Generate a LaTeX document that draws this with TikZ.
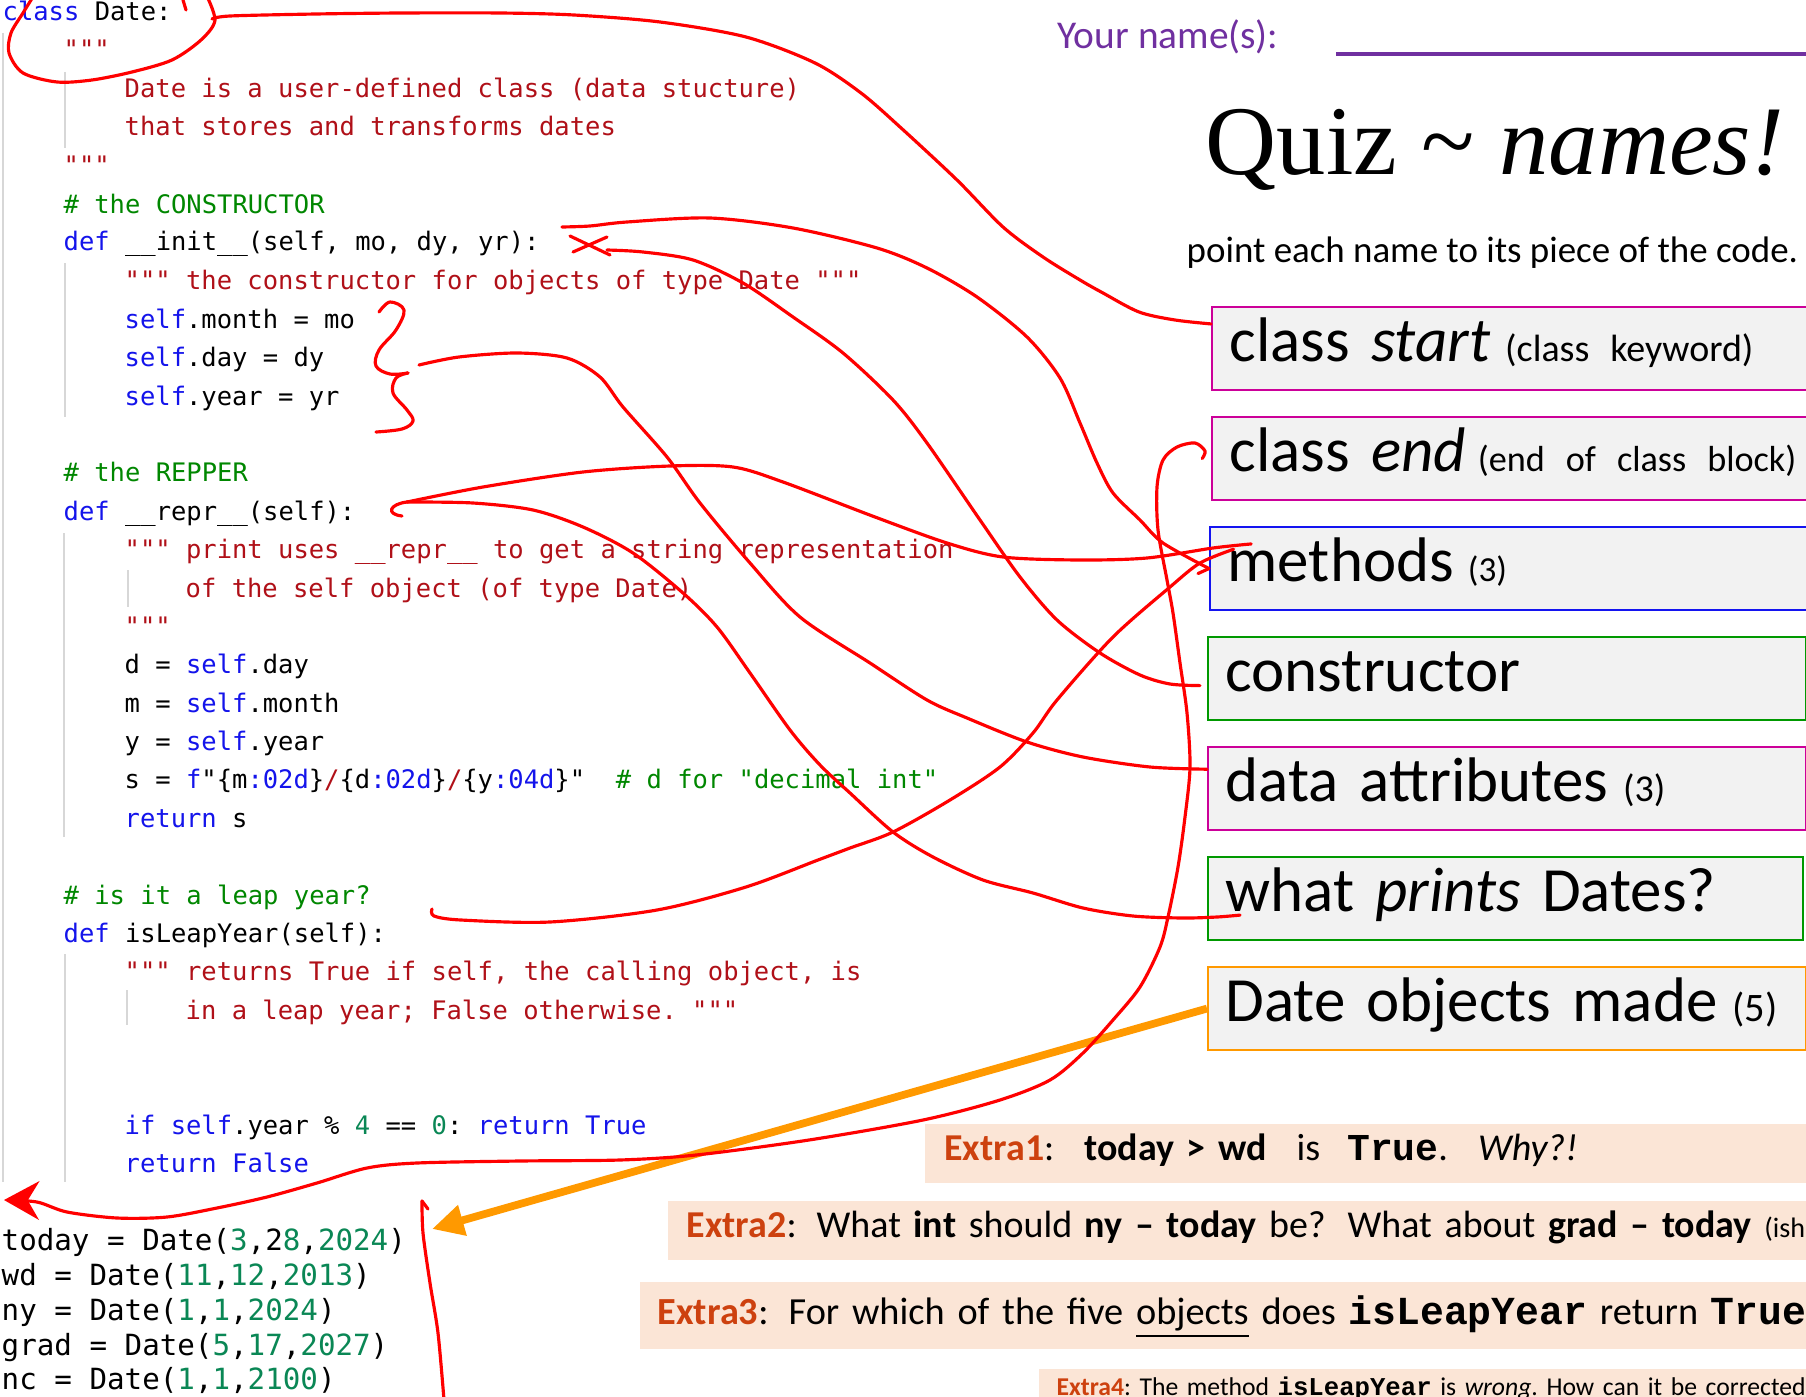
\documentclass[tikz,border=0pt]{standalone}
\usepackage{fontspec}
\setmainfont{Carlito}
\setmonofont{Liberation Mono}
\newfontfamily\codefont[Ligatures=ResetAll]{DejaVu Sans Mono}
\newfontfamily\titlefont{Liberation Serif}
\usepackage{xcolor}
\usetikzlibrary{arrows.meta}

\definecolor{kwblue}{RGB}{20,20,235}
\definecolor{strred}{RGB}{176,16,24}
\definecolor{cmtgreen}{RGB}{0,135,0}
\definecolor{numgreen}{RGB}{10,135,85}
\definecolor{guidegray}{RGB}{215,215,215}
\definecolor{inkred}{RGB}{255,0,0}
\definecolor{namepurple}{RGB}{112,48,160}
\definecolor{boxgray}{RGB}{242,242,242}
\definecolor{boxmagenta}{RGB}{204,0,153}
\definecolor{boxblue}{RGB}{20,20,240}
\definecolor{boxgreen}{RGB}{0,153,0}
\definecolor{boxorange}{RGB}{255,153,0}
\definecolor{extrafill}{RGB}{251,229,214}
\definecolor{extrared}{RGB}{205,65,15}

\newcommand{\pykw}[1]{\textcolor{kwblue}{#1}}
\newcommand{\pystr}[1]{\textcolor{strred}{#1}}
\newcommand{\pycmt}[1]{\textcolor{cmtgreen}{#1}}
\newcommand{\pynum}[1]{\textcolor{numgreen}{#1}}
\newcommand{\extra}[1]{\textbf{\textcolor{extrared}{#1}}}
\frenchspacing

\begin{document}
\begin{tikzpicture}[x=0.01cm, y=-0.01cm]
\tikzstyle{pyline} = [anchor=base west, inner sep=0pt, font=\codefont\fontsize{7.25}{8}\selectfont]
\tikzstyle{pyobj} = [pyline, font=\codefont\fontsize{8.3}{9}\selectfont]
\tikzstyle{guide} = [draw=guidegray, line width=0.45pt]
\tikzstyle{namebox} = [draw, line width=0.6pt, fill=boxgray, anchor=north west, align=left, inner xsep=5pt, inner ysep=0pt, text height=15.6pt, text depth=8pt, font=\fontsize{17.9}{20}\selectfont]
\tikzstyle{extrabox} = [fill=extrafill, anchor=north west, align=left, inner xsep=5.4pt, inner ysep=0pt, font=\fontsize{10.8}{13}\selectfont]
\tikzstyle{ink} = [draw=inkred, line width=0.9pt, line cap=round, line join=round]
\tikzstyle{objarrow} = [draw=boxorange, line width=2.2pt, -{Triangle[length=9pt,width=8.5pt]}]

\useasboundingbox (0,0) rectangle (1806,1397);
\fill[white] (0,0) rectangle (1806,1397);

% indent guides
\draw[guide] (3,33) -- (3,1182);
\draw[guide] (65,72) -- (65,148);
\draw[guide] (65,263) -- (65,417);
\draw[guide] (64,533) -- (64,837);
\draw[guide] (128,570) -- (128,607);
\draw[guide] (65,954) -- (65,1182);
\draw[guide] (127,990) -- (127,1025);

% class header and docstring
\node[pyline] (l0) at (2,21) {\pykw{class} Date:};
\node[pyline] (l1) at (63,59) {\pystr{"""}};
\node[pyline] (l2) at (124,98) {\pystr{Date is a user-defined class (data stucture)}};
\node[pyline] (l3) at (124,136) {\pystr{that stores and transforms dates}};
\node[pyline] (l4) at (63,175) {\pystr{"""}};

% constructor
\node[pyline] (l5) at (63,213) {\pycmt{\# the CONSTRUCTOR}};
\node[pyline] (l6) at (63,251) {\pykw{def} \_\_init\_\_(self, mo, dy, yr):};
\node[pyline] (l7) at (124,290) {\pystr{""" the constructor for objects of type Date """}};
\node[pyline] (l8) at (124,328) {\pykw{self}.month = mo};
\node[pyline] (l9) at (124,366) {\pykw{self}.day = dy};
\node[pyline] (l10) at (124,405) {\pykw{self}.year = yr};

% repper
\node[pyline] (l12) at (63,481) {\pycmt{\# the REPPER}};
\node[pyline] (l13) at (63,520) {\pykw{def} \_\_repr\_\_(self):};
\node[pyline] (l14) at (124,558) {\pystr{""" print uses \_\_repr\_\_ to get a string representation}};
\node[pyline] (l15) at (185,597) {\pystr{of the self object (of type Date)}};
\node[pyline] (l16) at (124,635) {\pystr{"""}};
\node[pyline] (l17) at (124,673) {d = \pykw{self}.day};
\node[pyline] (l18) at (124,712) {m = \pykw{self}.month};
\node[pyline] (l19) at (124,750) {y = \pykw{self}.year};
\node[pyline] (l20) at (124,788) {s = \pykw{f}"\{m\pykw{:02d}\}\pystr{/}\{d\pykw{:02d}\}\pystr{/}\{y\pykw{:04d}\}"~~\pycmt{\# d for "decimal int"}};
\node[pyline] (l21) at (124,827) {\pykw{return} s};

% leap year
\node[pyline] (l23) at (63,904) {\pycmt{\# is it a leap year?}};
\node[pyline] (l24) at (63,942) {\pykw{def} isLeapYear(self):};
\node[pyline] (l25) at (124,980) {\pystr{""" returns True if self, the calling object, is}};
\node[pyline] (l26) at (185,1019) {\pystr{in a leap year; False otherwise. """}};
\node[pyline] (l29) at (124,1134) {\pykw{if} \pykw{self}.year \% \pynum{4} == \pynum{0}: \pykw{return} \pykw{True}};
\node[pyline] (l30) at (124,1172) {\pykw{return} \pykw{False}};

% the five objects
\node[pyobj] (today) at (1,1250) {today = Date(\pynum{3},2\pynum{8},\pynum{2024})};
\node[pyobj] (wd) at (1,1285) {wd = Date(\pynum{11},\pynum{12},\pynum{2013})};
\node[pyobj] (ny) at (1,1320) {ny = Date(\pynum{1},\pynum{1},\pynum{2024})};
\node[pyobj] (grad) at (1,1355) {grad = Date(\pynum{5},\pynum{17},\pynum{2027})};
\node[pyobj] (nc) at (1,1389) {nc = Date(\pynum{1},\pynum{1},\pynum{2100})};

% heading
\node[anchor=base west, inner sep=0pt, text=namepurple, font=\fontsize{11.2}{13}\selectfont] (yourname) at (1057,49) {Your name(s):};
\draw[namepurple, line width=0.9pt] (1336,54) -- (1806,54);
\node[anchor=base west, inner sep=0pt, font=\titlefont\fontsize{28}{30}\selectfont] (quiz) at (1205,175) {Quiz \textasciitilde{} \textit{names!}};
\node[anchor=base west, inner sep=0pt, font=\fontsize{10.5}{12}\selectfont] (hint) at (1186,262) {point each name to its piece of the code.};

% name boxes
\node[namebox, draw=boxmagenta, text width=6.6cm] (start) at (1211,306) {class \textit{start}\hspace{1.5mm}{\fontsize{10.8}{13}\selectfont (class keyword)}};
\node[namebox, draw=boxmagenta, text width=6.6cm] (cend) at (1211,416) {class \textit{end}\hspace{1.2mm}{\fontsize{10.3}{13}\selectfont (end of class block)}};
\node[namebox, draw=boxblue, text width=6.6cm] (methods) at (1209,526) {methods\hspace{1.4mm}{\fontsize{10}{12}\selectfont (3)}};
\node[namebox, draw=boxgreen, text width=5.62cm] (cons) at (1207,636) {constructor};
\node[namebox, draw=boxmagenta, text width=5.62cm] (attrs) at (1207,746) {data attributes\hspace{1.5mm}{\fontsize{10.8}{13}\selectfont (3)}};
\node[namebox, draw=boxgreen, text width=5.59cm] (prints) at (1207,856) {what \textit{prints} Dates?};
\node[namebox, draw=boxorange, text width=5.62cm] (objs) at (1207,966) {Date objects made\hspace{1.5mm}{\fontsize{11.5}{14}\selectfont (5)}};

% extra questions
\node[extrabox, inner xsep=5.6pt, text width=9cm, text height=10.5pt, text depth=6.5pt] (extraA) at (924,1123) {\extra{Extra1}:\hspace{3mm}\textbf{today > wd}\hspace{3mm}is\hspace{2.7mm}\texttt{\textbf{True}}.\hspace{3mm}\textit{Why?!}};
\node[extrabox, text width=12cm, text height=10.5pt, text depth=6.3pt] (extraB) at (667,1200) {\extra{Extra2}:\hspace{2mm}What \textbf{int} should \textbf{ny -- today} be?\hspace{2.2mm}What about \textbf{grad -- today} {\fontsize{8}{9}\selectfont (ish)}};
\node[extrabox, inner xsep=5.1pt, text width=12.5cm, text height=12.2pt, text depth=6.8pt, font=\fontsize{10.9}{13}\selectfont] (extraC) at (639,1281) {\extra{Extra3}:\hspace{2mm}For which of the five \underline{objects} does {\fontsize{11.3}{13}\selectfont\texttt{\textbf{isLeapYear}}} return {\fontsize{11.3}{13}\selectfont\texttt{\textbf{True}}}?};
\node[extrabox, inner xsep=5.1pt, text width=9cm, text height=7.7pt, text depth=5pt, font=\fontsize{7.3}{9}\selectfont] (extraD) at (1038,1368) {\extra{Extra4}: The method \texttt{\textbf{isLeapYear}} is \textit{wrong}. How can it be corrected?};

% code-side ends of the hand-drawn marks
\coordinate (dateTip) at (212,19);
\coordinate (initTip) at (562,227);
\coordinate (initX) at (607,250);
\coordinate (braceTip) at (419,365);
\coordinate (reprTip) at (407,502);
\coordinate (leapTip) at (434,916);
\coordinate (endTip) at (4,1200);
\coordinate (objTip) at (432,1229);

% orange pointer to the objects
\draw[objarrow] (objs.west) -- (objTip);

% red ink
\draw[ink] plot[smooth] coordinates {(205,-8) (215,20) (201,40) (172,60) (132,72) (92,80) (57,82) (23,73) (9,53) (11,33) (23,13) (36,-8)};
\draw[ink] (183,0) -- (186,10);
\draw[ink] plot[smooth] coordinates {(dateTip) (230,16) (316,14) (402,13) (500,13) (574,15) (660,22) (746,37) (815,63) (861,93) (900,127) (957,180) (1003,227) (1043,257) (1080,280) (1103,293) (1139,312) (1175,320) ([yshift=7pt]start.west)};
\draw[ink] (570,236) -- (610,255) (573,252) -- (607,237);
\draw[ink] plot[smooth] coordinates {(initX) (643,252) (693,260) (743,283) (793,317) (843,353) (893,400) (927,443) (980,520) (1020,577) (1057,620) (1100,653) (1140,675) (1170,684) ([xshift=-2pt,yshift=-2pt]cons.west)};
\draw[ink] plot[smooth] coordinates {(initTip) (590,226) (627,222) (710,218) (793,228) (877,248) (927,268) (977,297) (1027,337) (1060,378) (1080,423) (1097,463) (1113,493) (1140,520) (1163,543) (methods.west)};
\draw[ink] (methods.west) -- ++(-11,5);
\draw[ink] plot[smooth, tension=0.6] coordinates {(379,312) (390,302) (404,310) (396,330) (379,350) (376,366) (390,374) (408,373)};
\draw[ink] plot[smooth, tension=0.6] coordinates {(408,373) (396,378) (393,393) (407,410) (413,421) (402,429) (376,432)};
\draw[ink] plot[smooth] coordinates {(braceTip) (459,357) (517,353) (567,358) (600,377) (623,407) (667,457) (700,503) (750,563) (800,617) (870,663) (927,700) (967,718) (1027,742) (1083,757) (1150,767) ([yshift=5.5pt]attrs.west)};
\draw[ink] (402,516) .. controls (385,514) and (390,504) .. (reprTip);
\draw[ink] plot[smooth] coordinates {(reprTip) (483,487) (583,472) (670,466) (733,467) (783,482) (875,517) (947,543) (1003,557) (1080,560) (1147,558) (1213,548) ([xshift=12pt,yshift=7pt]methods.west)};
\draw[ink] plot[smooth] coordinates {(reprTip) (473,503) (533,510) (583,527) (633,553) (683,593) (717,627) (750,673) (790,730) (820,765) (850,793) (893,832) (933,857) (983,880) (1033,893) (1083,908) (1133,916) (1183,918) (1217,917) ([xshift=9.4pt,yshift=-4.7pt]prints.west)};
\draw[ink] plot[smooth] coordinates {(432,909) (leapTip) (461,920) (550,922) (657,910) (746,887) (818,860) (850,848) (893,832) (950,800) (1000,767) (1033,733) (1057,700) (1113,637) (1170,587) (1200,563) ([xshift=7pt,yshift=5.5pt]methods.west)};
\draw[ink, -{Stealth[length=10pt,width=11pt]}] plot[smooth] coordinates {([xshift=-2.5pt]cend.west) (1205,451) (1195,443) (1177,447) (1163,460) (1157,487) (1158,530) (1167,580) (1173,613) (1180,663) (1187,713) (1190,767) (1185,817) (1178,867) (1168,917) (1160,947) (1140,987) (1113,1020) (1083,1053) (1050,1080) (1000,1100) (923,1120) (809,1140) (696,1155) (620,1160) (520,1161) (417,1163) (367,1168) (317,1183) (267,1197) (217,1208) (167,1217) (117,1218) (67,1212) (37,1202) (endTip)};
\draw[ink] (428,1209) -- (422,1201);
\draw[ink] plot[smooth] coordinates {(422,1201) (423,1233) (430,1283) (438,1333) (444,1400)};
\end{tikzpicture}
\end{document}
